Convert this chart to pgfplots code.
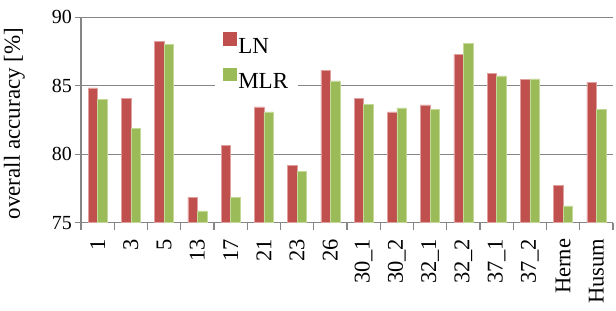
\documentclass[border=0pt]{standalone}
\usepackage{pgfplots}
\pgfplotsset{compat=1.18}
\usepackage{fontspec}
\setmainfont{Liberation Serif}
\newfontfamily\tnr{Liberation Serif}
\definecolor{lnred}{HTML}{C0504D}
\definecolor{lnedge}{HTML}{E0A09E}
\definecolor{mlrgreen}{HTML}{9BBB59}
\definecolor{mlredge}{HTML}{C4D89A}
\definecolor{gridgray}{HTML}{868686}
\begin{document}
\begin{tikzpicture}
\useasboundingbox (-81bp,-88.3bp) rectangle (535bp,222.7bp);
\begin{axis}[
  at={(0,0)}, anchor=south west,
  scale only axis,
  width=532bp, height=205.4bp,
  ybar=0pt, bar width=9.5bp,
  xmin=-0.5, xmax=15.5,
  ymin=75, ymax=90,
  axis x line*=bottom, axis y line*=left,
  axis line style={gridgray, line width=1.3bp, -},
  xtick={0,...,15},
  xticklabels={1,3,5,13,17,21,23,26,30\_1,30\_2,32\_1,32\_2,37\_1,37\_2,Herne,Husum},
  minor xtick={-0.5,0.5,...,15.5},
  major x tick style={draw=none},
  minor x tick style={gridgray, line width=1.3bp},
  minor tick length=7bp,
  ytick={75,80,85,90},
  major tick length=6bp,
  y tick style={gridgray, line width=1.3bp},
  tick align=outside,
  ymajorgrids,
  major grid style={gridgray, line width=1.3bp},
  /pgf/number format/assume math mode=true,
  yticklabel style={font=\tnr\fontsize{20bp}{24bp}\selectfont, inner sep=0pt, xshift=-3bp},
  xticklabel style={font=\tnr\fontsize{22.5bp}{26bp}\selectfont, rotate=90, anchor=east, inner sep=0pt, xshift=-10bp},
  ylabel={overall accuracy [\%]},
  ylabel style={font=\tnr\fontsize{23bp}{27bp}\selectfont, at={(axis description cs:-0.105,0.483)}, anchor=south, inner sep=0pt},
  legend style={at={(axis description cs:0.252,0.948)}, anchor=north west, draw=none, fill=white,
    font=\tnr\fontsize{23bp}{27bp}\selectfont, row sep=11bp, inner xsep=8bp, inner ysep=4bp},
  legend cell align=left,
]
\addplot[fill=lnred, draw=lnedge, line width=0.6bp,
  legend image code/.code={\fill[lnred] (0bp,1.6bp) rectangle (12.4bp,14bp);}]
  coordinates {(0,84.84) (1,84.07) (2,88.25) (3,76.87) (4,80.63) (5,83.46) (6,79.18) (7,86.11)
  (8,84.05) (9,83.09) (10,83.6) (11,87.27) (12,85.91) (13,85.47) (14,77.7) (15,85.23)};
\addplot[fill=mlrgreen, draw=mlredge, line width=0.6bp,
  legend image code/.code={\fill[mlrgreen] (0bp,1.6bp) rectangle (12.4bp,14bp);}]
  coordinates {(0,84.0) (1,81.89) (2,88.0) (3,75.86) (4,76.82) (5,83.09) (6,78.74) (7,85.35)
  (8,83.66) (9,83.38) (10,83.26) (11,88.08) (12,85.72) (13,85.5) (14,76.23) (15,83.29)};
\legend{LN,MLR}
\end{axis}
\end{tikzpicture}
\end{document}
